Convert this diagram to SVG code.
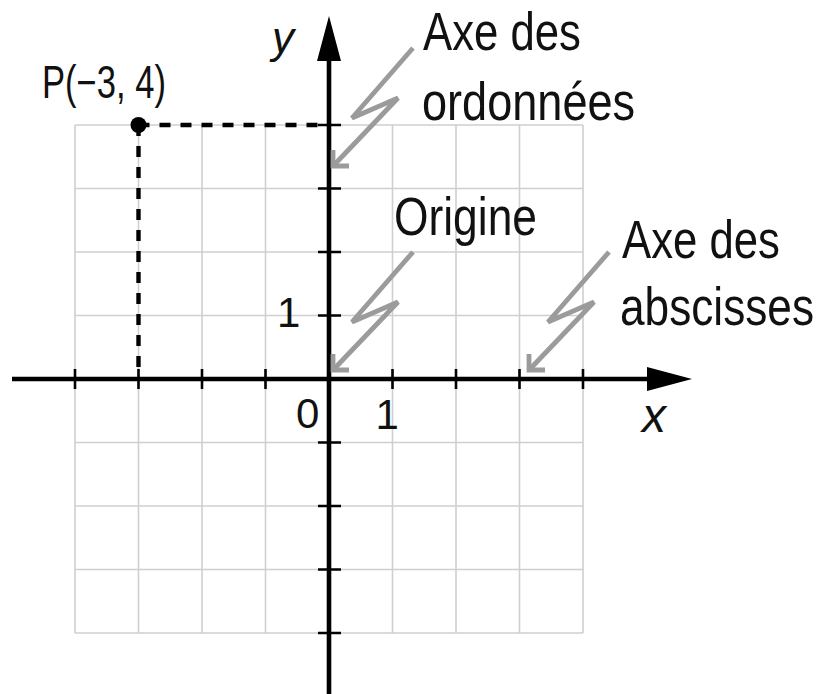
<svg xmlns="http://www.w3.org/2000/svg" xmlns:xlink="http://www.w3.org/1999/xlink" width="825" height="694" viewBox="0 0 825 694">
  <style>
    .grid { stroke: #cfcfcf; stroke-width: 1.6; fill: none; }
    .axis { stroke: #000; stroke-width: 4.6; fill: none; }
    .tick { stroke: #000; stroke-width: 2.6; fill: none; }
    .dash { stroke: #000; stroke-width: 4.4; fill: none; stroke-dasharray: 11 10; }
    .bolt { stroke: #9b9b9b; stroke-width: 4.8; fill: none; stroke-linejoin: miter; stroke-linecap: butt; }
    .lbl { font-family: "Liberation Sans", Arial, sans-serif; font-size: 53px; fill: #111; }
    .num { font-family: "Liberation Sans", Arial, sans-serif; font-size: 42px; fill: #111; }
    .var { font-family: "Liberation Sans", Arial, sans-serif; font-style: italic; fill: #111; }
  </style>
  <defs>
    <g id="bolt">
      <path class="bolt" d="M80,-118 L19,-48 L65,-68 L1,-1"/>
      <path class="bolt" d="M0,-16 L0,0 L16,0"/>
    </g>
  </defs>
  <rect width="825" height="694" fill="#fff"/>

  <g id="grid">
    <path class="grid" d="M75,125 V633 M138.5,125 V633 M202,125 V633 M265.5,125 V633 M392.5,125 V633 M456,125 V633 M519.5,125 V633 M583,125 V633
                          M75,125 H583 M75,188.5 H583 M75,252 H583 M75,315.5 H583 M75,442.5 H583 M75,506 H583 M75,569.5 H583 M75,633 H583"/>
  </g>

  <g id="x-axis">
    <line class="axis" x1="12" y1="379" x2="650" y2="379"/>
    <polygon points="692,379 647,367 647,391" fill="#000"/>
    <path class="tick" d="M75,369 V389 M138.5,369 V389 M202,369 V389 M265.5,369 V389 M392.5,369 V389 M456,369 V389 M519.5,369 V389 M583,369 V389"/>
  </g>

  <g id="y-axis">
    <line class="axis" x1="329" y1="694" x2="329" y2="58"/>
    <polygon points="329,16 317,61 341,61" fill="#000"/>
    <path class="tick" d="M318,125 H341 M318,188.5 H341 M318,252 H341 M318,315.5 H341 M318,442.5 H341 M318,506 H341 M318,569.5 H341 M318,633 H341"/>
  </g>

  <g id="point-P">
    <path class="dash" d="M138.5,125 H327"/>
    <path class="dash" d="M138.5,125 V377"/>
    <circle cx="138.5" cy="125" r="8" fill="#000"/>
    <text class="lbl" transform="translate(42,98) scale(0.752,1)" style="font-size:46px">P(−3, 4)</text>
  </g>

  <g id="axis-labels">
    <text class="var" x="272" y="53" style="font-size:44px">y</text>
    <text class="var" x="642" y="432" style="font-size:48px">x</text>
    <text class="num" x="277" y="327">1</text>
    <text class="num" x="296" y="428">0</text>
    <text class="num" x="375.5" y="429">1</text>
  </g>

  <g id="label-ordonnees">
    <text class="lbl" transform="translate(423,50) scale(0.825,1)">Axe des</text>
    <text class="lbl" transform="translate(422,120) scale(0.851,1)">ordonnées</text>
  </g>

  <g id="label-origine">
    <text class="lbl" transform="translate(394,235) scale(0.837,1)">Origine</text>
  </g>

  <g id="label-abscisses">
    <text class="lbl" transform="translate(622,258) scale(0.825,1)">Axe des</text>
    <text class="lbl" transform="translate(620,325) scale(0.834,1)">abscisses</text>
  </g>

  <g id="connectors">
    <use xlink:href="#bolt" transform="translate(333,166)"/>
    <use xlink:href="#bolt" transform="translate(333,370)"/>
    <use xlink:href="#bolt" transform="translate(529,370)"/>
  </g>
</svg>
